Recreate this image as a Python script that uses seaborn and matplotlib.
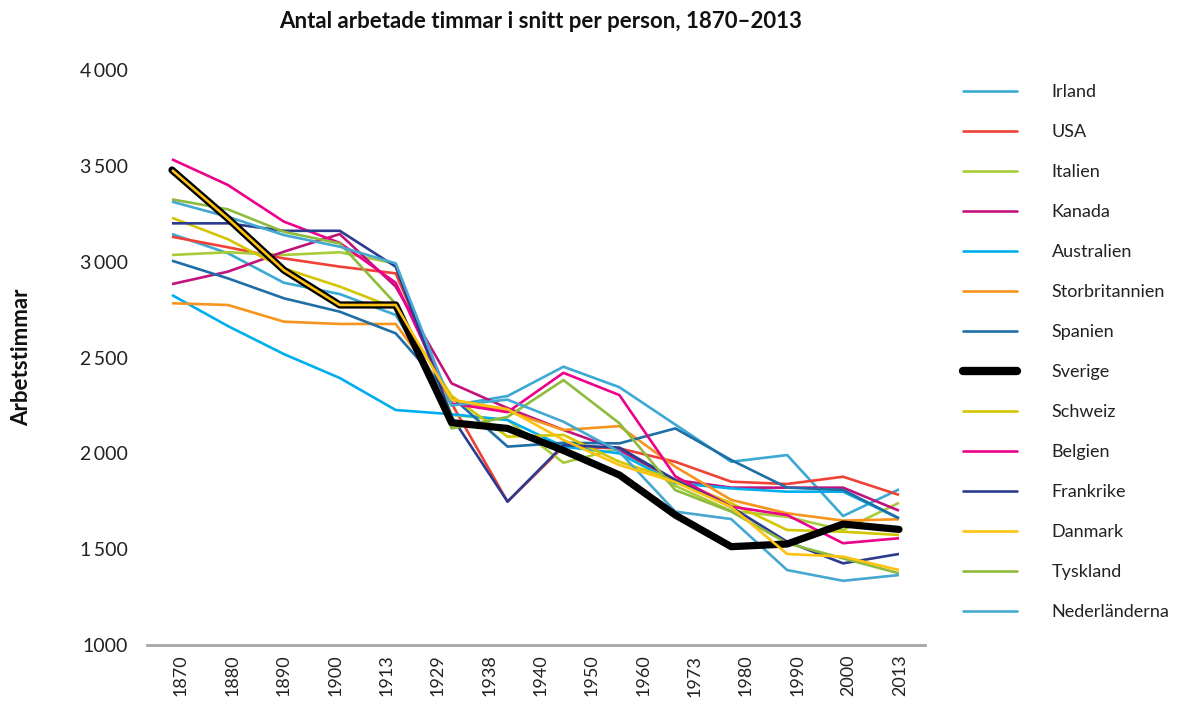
import matplotlib
matplotlib.use("Agg")
import matplotlib.pyplot as plt
import seaborn as sns
import pandas as pd
import numpy as np
from matplotlib.lines import Line2D

# ---------------- data ----------------
years = [1870, 1880, 1890, 1900, 1913, 1929, 1938, 1950, 1960, 1973, 1980, 1990, 2000, 2013]
tick_labels = ["1870", "1880", "1890", "1900", "1913", "1929", "1938", "1940",
               "1950", "1960", "1973", "1980", "1990", "2000", "2013"]

irland = [3144, 3044, 2890, 2831, 2722, 2250, 2299, 2452, 2345, 2150, 1956, 1991, 1673, 1812]
usa = [3130, 3075, 3017, 2974, 2939, 2260, 1748, 2035, 2026, 1956, 1852, 1840, 1878, 1783]
italien = [3035, 3049, 3035, 3049, 2990, 2200, 2174, 1951, 2026, 1830, 1700, 1669, 1600, 1742]
kanada = [2883, 2948, 3052, 3144, 2870, 2365, 2236, 2122, 2017, 1861, 1821, 1821, 1821, 1701]
australien = [2826, 2664, 2518, 2393, 2226, 2204, 2174, 2035, 2000, 1845, 1817, 1800, 1800, 1661]
storbritannien = [2783, 2774, 2687, 2675, 2675, 2278, 2220, 2122, 2142, 1930, 1757, 1687, 1649, 1656]
spanien = [3005, 2913, 2809, 2739, 2626, 2295, 2035, 2055, 2052, 2130, 1965, 1821, 1809, 1661]
sverige = [3478, 3225, 2956, 2774, 2774, 2160, 2130, 2015, 1887, 1678, 1513, 1527, 1631, 1603]
schweiz = [3229, 3117, 2965, 2870, 2757, 2300, 2087, 2096, 1956, 1861, 1740, 1600, 1591, 1574]
belgien = [3534, 3400, 3209, 3098, 2890, 2260, 2215, 2420, 2304, 1880, 1722, 1678, 1531, 1557]
frankrike = [3200, 3200, 3161, 3161, 2974, 2191, 1748, 2043, 2030, 1861, 1720, 1539, 1426, 1475]
danmark = [3478, 3225, 2956, 2774, 2774, 2280, 2230, 2070, 1939, 1850, 1720, 1475, 1461, 1391]
tyskland = [3325, 3273, 3156, 3095, 2780, 2130, 2190, 2382, 2157, 1808, 1696, 1531, 1452, 1374]
nederlanderna = [3313, 3234, 3139, 3078, 2991, 2250, 2280, 2165, 2008, 1696, 1657, 1391, 1335, 1365]

countries = ["Irland", "USA", "Italien", "Kanada", "Australien", "Storbritannien", "Spanien",
             "Sverige", "Schweiz", "Belgien", "Frankrike", "Danmark", "Tyskland", "Nederländerna"]
series = [irland, usa, italien, kanada, australien, storbritannien, spanien,
          sverige, schweiz, belgien, frankrike, danmark, tyskland, nederlanderna]
colors = {
    "Irland": "#3aa9d3", "USA": "#ef4136", "Italien": "#a7cc3a", "Kanada": "#c1137c",
    "Australien": "#00aeef", "Storbritannien": "#f7941d", "Spanien": "#1f6ea5",
    "Sverige": "#000000", "Schweiz": "#d3c500", "Belgien": "#ec008c", "Frankrike": "#2b3b8f",
    "Danmark": "#ffc20e", "Tyskland": "#8dbb3c", "Nederländerna": "#45a8d0",
}

rows = []
for name, vals in zip(countries, series):
    for i, (yr, v) in enumerate(zip(years, vals)):
        rows.append({"land": name, "pos": i, "year": yr, "timmar": v})
df = pd.DataFrame(rows)

# ---------------- plot ----------------
sns.set_style("white")
plt.rcParams["font.family"] = ["Lato", "DejaVu Sans"]

fig = plt.figure(figsize=(11.81, 7.08), dpi=100)
ax = fig.add_axes([147 / 1181, 1 - 645 / 708, (925 - 147) / 1181, (645 - 70) / 708])

draw_order = [c for c in countries if c not in ("Sverige", "Danmark")] + ["Sverige", "Danmark"]
for name in draw_order:
    sub = df[df["land"] == name]
    lw = 5.2 if name == "Sverige" else 1.9
    sns.lineplot(data=sub, x="pos", y="timmar", color=colors[name], linewidth=lw,
                 ax=ax, legend=False, sort=False,
                 solid_capstyle="round" if name == "Sverige" else "butt")

ax.set_ylim(1000, 4000)
ax.set_xlim(-0.447, 13.465)
ax.set_yticks([1000, 1500, 2000, 2500, 3000, 3500, 4000])
ax.set_yticklabels(["1000", "1\u2009500", "2\u2009000", "2\u2009500", "3\u2009000", "3\u2009500", "4\u2009000"],
                   fontsize=14, color="#222222")
ax.set_xticks(np.linspace(0.161, 13.018, len(tick_labels)))
ax.set_xticklabels(tick_labels, rotation=90, fontsize=13, color="#222222")
ax.tick_params(axis="y", length=0, pad=14)
ax.tick_params(axis="x", length=0, pad=7)

for s in ["top", "right", "left"]:
    ax.spines[s].set_visible(False)
ax.spines["bottom"].set_color("#a6a6a6")
ax.spines["bottom"].set_linewidth(2)
ax.grid(False)

ax.set_xlabel("")
ax.set_ylabel("Arbetstimmar", fontsize=16, fontweight="bold", color="#111111")
ax.yaxis.set_label_coords(-0.148, 0.5)

fig.text(541 / 1181, 1 - 22 / 708, "Antal arbetade timmar i snitt per person, 1870\u20132013",
         ha="center", va="center", fontsize=16, fontweight="bold", color="#111111")

handles = []
for name in countries:
    if name == "Sverige":
        handles.append(Line2D([0], [0], color="black", lw=6, solid_capstyle="round"))
    else:
        handles.append(Line2D([0], [0], color=colors[name], lw=1.9))
leg = fig.legend(handles, countries, loc="upper left", bbox_to_anchor=(947 / 1181, 1 - 68 / 708),
                 frameon=False, fontsize=13, handlelength=3.0, handletextpad=1.9,
                 labelspacing=1.33)
for t in leg.get_texts():
    t.set_color("#222222")

fig.savefig("out.png", dpi=100)
